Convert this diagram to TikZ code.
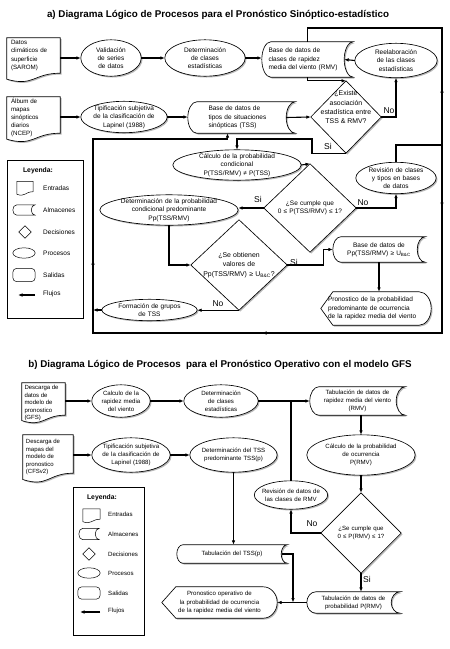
\documentclass[tikz,border=0pt]{standalone}
\usepackage{fontspec}
\setmainfont{Liberation Sans}
\usetikzlibrary{arrows.meta,calc,decorations.markings}
\pgfdeclarelayer{bg}
\pgfsetlayers{bg,main}
\newcommand\fs{\fontsize{6.5}{8.3}\selectfont}
\newcommand\fsd{\fontsize{6.2}{8.2}\selectfont}
\newcommand\fsL{\fontsize{6.9}{9.4}\selectfont}
\newcommand\fsb{\fontsize{6.1}{8.1}\selectfont}
\newcommand\fsbd{\fontsize{6.0}{7.5}\selectfont}
\newcommand\movetxt[3]{\raisebox{#1}[0pt][0pt]{\parbox{#2}{\raggedright #3}}}
% shape paths
\newcommand\pEll[1]{let \p1=($(#1.north east)-(#1.center)$) in (#1.center) ellipse [x radius=\x1, y radius=\y1]}
\newcommand\pDoc[2]{($(#1.south west)+(0,#2)$) -- (#1.north west) -- (#1.north east) -- (#1.south east) .. controls ($(#1.south east)!0.5!(#1.south west)$) and ($(#1.south east)!0.5!(#1.south west)+(0,2.3*#2)$) .. ($(#1.south west)+(0,#2)$) -- cycle}
\newcommand\pSto[2]{($(#1.north west)+(#2,0)$) -- (#1.north east) .. controls ($(#1.north east)+(-0.55*#2,0)$) and ($(#1.east)!0.55!(#1.north east)+(-#2,0)$) .. ($(#1.east)+(-#2,0)$) .. controls ($(#1.east)!0.55!(#1.south east)+(-#2,0)$) and ($(#1.south east)+(-0.55*#2,0)$) .. (#1.south east) -- ($(#1.south west)+(#2,0)$) .. controls ($(#1.south west)+(0.45*#2,0)$) and ($(#1.west)!0.55!(#1.south west)$) .. (#1.west) .. controls ($(#1.west)!0.55!(#1.north west)$) and ($(#1.north west)+(0.45*#2,0)$) .. ($(#1.north west)+(#2,0)$) -- cycle}
\newcommand\pDis[2]{($(#1.north west)+(#2,0)$) -- ($(#1.north east)+(-#2,0)$) .. controls ($(#1.north east)+(-0.45*#2,0)$) and ($(#1.east)!0.55!(#1.north east)$) .. (#1.east) .. controls ($(#1.east)!0.55!(#1.south east)$) and ($(#1.south east)+(-0.45*#2,0)$) .. ($(#1.south east)+(-#2,0)$) -- ($(#1.south west)+(#2,0)$) -- (#1.west) -- cycle}
\newcommand\pDia[1]{(#1.north) -- (#1.east) -- (#1.south) -- (#1.west) -- cycle}
\newcommand\pRnd[1]{[rounded corners=4pt] (#1.north west) rectangle (#1.south east)}
\newcommand\sdraw[1]{\begin{pgfonlayer}{bg}\fill[shd] #1;\path[outl] #1;\end{pgfonlayer}}
\newcommand\ldraw[1]{\begin{pgfonlayer}{bg}\path[outl, line width=0.5pt] #1;\end{pgfonlayer}}
\tikzset{
 >={Latex[length=4.5pt,width=3.6pt]},
 bx/.style={rectangle, draw=none, inner sep=0pt, align=center, font=\fs},
 outl/.style={draw=black, line width=0.65pt, fill=white},
 shd/.style={fill=black!28, draw=none, transform canvas={shift={(1.3pt,-1.3pt)}}},
 conn/.style={line width=1.1pt},
 flow/.style={conn, ->},
 lb/.style={font=\fontsize{8.5}{9}\selectfont, inner sep=0pt},
 ttl/.style={font=\fontsize{9.8}{11}\selectfont\bfseries, inner sep=0pt},
 lgh/.style={font=\fontsize{6.8}{8}\selectfont\bfseries, inner sep=0pt},
 lgt/.style={font=\fs, inner sep=0pt, anchor=west},
 lgtb/.style={font=\fsb, inner sep=0pt, anchor=west},
}
\begin{document}
\begin{tikzpicture}[x=1pt,y=-1pt]
\useasboundingbox (0,0) rectangle (450,649);
\begin{pgfonlayer}{bg}\fill[white] (0,0) rectangle (450,649);\end{pgfonlayer}

% ================= PART A =================
\node[ttl] (ta) at (218,15) {a) Diagrama Lógico de Procesos para el Pronóstico Sinóptico-estadístico};

\node[bx,font=\fsd,minimum width=53pt,minimum height=35pt,text width=45pt,align=left] (da1) at (33.5,55.5) {Datos\\climáticos de\\superficie\\(SAROM)};
\sdraw{\pDoc{da1}{6}}
\node[bx,minimum width=60pt,minimum height=36pt,text width=52pt] (v1) at (111,58) {Validación\\de series\\de datos};
\sdraw{\pEll{v1}}
\node[bx,minimum width=80pt,minimum height=36pt,text width=70pt] (e2) at (205,58) {Determinación\\de clases\\estadísticas};
\sdraw{\pEll{e2}}
\node[bx,minimum width=91pt,minimum height=35pt,text width=78pt,align=left] (s1) at (307.5,59.5) {Base de datos de\\clases de rapidez\\media del viento (RMV)};
\sdraw{\pSto{s1}{9}}
\node[bx,minimum width=82pt,minimum height=34pt,text width=72pt] (e3) at (396,60.5) {Reelaboración\\de las clases\\estadísticas};
\sdraw{\pEll{e3}}

\node[bx,font=\fsd,minimum width=53pt,minimum height=36pt] (da2) at (33.5,115) {\movetxt{-4pt}{45pt}{Álbum de\\mapas\\sinópticos\\diarios\\(NCEP)}};
\sdraw{\pDoc{da2}{6}}
\node[bx,minimum width=86pt,minimum height=31pt,text width=80pt] (e4) at (124,117) {Tipificación subjetiva\\de la clasificación de\\Lapinel (1988)};
\sdraw{\pEll{e4}}
\node[bx,minimum width=107pt,minimum height=31pt,text width=66pt,align=left] (s2) at (241.5,117.5) {Base de datos de\\tipos de situaciones\\sinópticas (TSS)};
\sdraw{\pSto{s2}{9}}
\node[bx,font=\fsL,minimum width=70pt,minimum height=72pt] (qa1) at (346,117) {\raisebox{8pt}[0pt][0pt]{\parbox{66pt}{\centering ¿Existe\\asociación\\estadística entre\\TSS \& RMV?}}};
\sdraw{\pDia{qa1}}

\node[bx,minimum width=128pt,minimum height=30pt,text width=110pt] (c1) at (237,165) {Cálculo de la probabilidad\\condicional\\P(TSS/RMV) ≠ P(TSS)};
\sdraw{\pEll{c1}}
\node[bx,minimum width=92pt,minimum height=88pt,text width=84pt] (qa2) at (310,208) {¿Se cumple que\\0 ≤ P(TSS/RMV) ≤ 1?};
\sdraw{\pDia{qa2}}
\node[bx,minimum width=80pt,minimum height=31pt,text width=72pt] (r1) at (396,178) {Revisión de clases\\y tipos en bases\\de datos};
\sdraw{\pEll{r1}}
\node[bx,minimum width=138pt,minimum height=30pt,text width=124pt] (e5) at (169,210) {Determinación de la probabilidad\\condicional predominante\\Pp(TSS/RMV)};
\sdraw{\pEll{e5}}
\node[bx,font=\fsL,minimum width=96pt,minimum height=90pt,text width=90pt] (qa3) at (239,265) {¿Se obtienen\\valores de\\Pp(TSS/RMV) ≥ U\textsubscript{B\&C}?};
\sdraw{\pDia{qa3}}
\node[bx,minimum width=92pt,minimum height=25pt,text width=84pt] (s3) at (379,249.5) {Base de datos de\\Pp(TSS/RMV) ≥ U\textsubscript{B\&C}};
\sdraw{\pSto{s3}{8}}
\node[bx,minimum width=110pt,minimum height=33pt,text width=96pt,align=left] (o1) at (376,308.5) {Pronostico de la probabilidad\\predominante de ocurrencia\\de la rapidez media del viento};
\sdraw{\pDis{o1}{12}}
\node[bx,minimum width=95pt,minimum height=21pt,text width=88pt] (f1) at (149.5,310) {Formación de grupos\\de TSS};
\sdraw{\pEll{f1}}

% legend a
\node[draw,line width=0.6pt,minimum width=76pt,minimum height=158pt,inner sep=0pt] (lga) at (45,239) {};
\node[lgh] (lha) at (38,171) {Leyenda:};
\node[bx,minimum width=16pt,minimum height=10pt] (sya1) at (25,186.5) {}; \ldraw{\pDoc{sya1}{2.5}}
\node[bx,minimum width=22pt,minimum height=10pt] (sya2) at (24,210) {}; \ldraw{\pSto{sya2}{4}}
\node[bx,minimum width=12pt,minimum height=12pt] (sya3) at (25,232) {}; \ldraw{\pDia{sya3}}
\node[bx,minimum width=22pt,minimum height=10pt] (sya4) at (24,253) {}; \ldraw{\pEll{sya4}}
\node[bx,minimum width=22pt,minimum height=13pt] (sya5) at (24,275) {}; \ldraw{\pRnd{sya5}}
\coordinate (fa1) at (35,295); \coordinate (fa2) at (18,295);
\draw[flow] (fa1) -- (fa2);
\node[lgt] (lta1) at (43,188) {Entradas};
\node[lgt] (lta2) at (43,210) {Almacenes};
\node[lgt] (lta3) at (43,232) {Decisiones};
\node[lgt] (lta4) at (43,253) {Procesos};
\node[lgt] (lta5) at (43,275) {Salidas};
\node[lgt] (lta6) at (43,294) {Flujos};

% connectors a
\coordinate (tr) at (442,28);
\coordinate (J) at (442,145);
\coordinate (br) at (442,333);
\coordinate (bl) at (93,333);
\coordinate (tl) at (93,139);
\coordinate (kSi) at (312,139);

\draw[flow] (v1.west -| da1.east) -- (v1.west);
\draw[flow] (v1.east) -- (e2.west);
\draw[flow] (e2.east) -- (s1.west |- e2.east);
\draw[flow] (e3.west) -- ([xshift=-9pt]s1.east);
\draw[flow] (s1.south) |- (qa1.north);
\draw[flow] (e4.west -| da2.east) -- (e4.west);
\draw[flow] (e4.east) -- (s2.west |- e4.east);
\draw[flow] ([xshift=-9pt]s2.east) -- (qa1.west);
\draw[flow] (qa1.east) -| (e3.south);
\draw[flow] (qa1.south) -| (kSi) -| (c1.north);
\draw[flow] (c1.east) -- (qa2.north);
\draw[flow] (qa2.west) -- (qa2.west -| e5.east);
\draw[flow] (qa2.east) -| (r1.south);
\draw[conn] (r1.north) |- (J);
\draw[conn, postaction={decorate}, decoration={markings, mark=at position 57pt with {\arrow{>}}}] (J) -- (tr) -| (s1.north);
\draw[flow, postaction={decorate}, decoration={markings, mark=at position 62pt with {\arrow{>}}, mark=at position 368pt with {\arrow{>}}, mark=at position 610pt with {\arrow{>}}}] (J) -- (br) -- (bl) -- (tl) -| ([xshift=-14pt]s2.south);
\draw[flow] (e5.south) |- (qa3.west);
\draw[flow] (qa3.east) -- ++(36,0) |- (s3.west);
\draw[flow] (s3.south) -- (s3.south |- o1.north);
\draw[flow] (qa3.south) -- (qa3.south -| f1.east);
\draw[flow] (f1.west) -- (f1.west -| bl);

\node[lb] (na1) at (389,111) {No};
\node[lb] (sa1) at (328,146) {Si};
\node[lb] (sa2) at (258,199) {Si};
\node[lb] (na2) at (363,203) {No};
\node[lb] (sa3) at (294,262) {Si};
\node[lb] (na3) at (218,304) {No};

% ================= PART B =================
\node[ttl] (tb) at (220,365) {b) Diagrama Lógico de Procesos \ para el Pronóstico Operativo con el modelo GFS};

\node[bx,font=\fsbd,minimum width=43pt,minimum height=32pt] (db1) at (43.5,399) {\movetxt{-5.5pt}{38pt}{Descarga de\\datos de\\modelo de\\pronostico\\(GFS)}};
\sdraw{\pDoc{db1}{5.4}}
\node[bx,font=\fsb,minimum width=58pt,minimum height=32pt,text width=52pt] (e6) at (121,401) {Calculo de la\\rapidez media\\del viento};
\sdraw{\pEll{e6}}
\node[bx,font=\fsb,minimum width=74pt,minimum height=32pt,text width=66pt] (e7) at (221,401) {Determinación\\de clases\\estadísticas};
\sdraw{\pEll{e7}}
\node[bx,font=\fsb,minimum width=95pt,minimum height=28pt,text width=84pt] (s4) at (357.5,401) {Tabulación de datos de\\rapidez media del viento\\(RMV)};
\sdraw{\pSto{s4}{9}}

\node[bx,font=\fsbd,minimum width=50pt,minimum height=38pt] (db2) at (48,454) {\movetxt{-4.5pt}{44pt}{Descarga de\\mapas del\\modelo de\\pronostico\\(CFSv2)}};
\sdraw{\pDoc{db2}{6.3}}
\node[bx,font=\fsb,minimum width=78pt,minimum height=34pt,text width=72pt] (e8) at (131,455) {Tipificación subjetiva\\de la clasificación de\\Lapinel (1988)};
\sdraw{\pEll{e8}}
\node[bx,font=\fsb,minimum width=87pt,minimum height=34pt,text width=80pt] (e9) at (233.5,455) {Determinación del TSS\\predominante TSS(p)};
\sdraw{\pEll{e9}}
\node[bx,font=\fsb,minimum width=108pt,minimum height=40pt,text width=96pt] (c2) at (361,455) {Cálculo de la probabilidad\\de ocurrencia\\P(RMV)};
\sdraw{\pEll{c2}}
\node[bx,font=\fsb,minimum width=73pt,minimum height=28pt,text width=68pt] (r2) at (291,495) {Revisión de datos de\\las clases de RMV};
\sdraw{\pEll{r2}}
\node[bx,font=\fsb,minimum width=80pt,minimum height=80pt,text width=72pt] (qb1) at (361,533) {¿Se cumple que\\0 ≤ P(RMV) ≤ 1?};
\sdraw{\pDia{qb1}}
\node[bx,font=\fsb,minimum width=110pt,minimum height=18pt,text width=96pt] (s6) at (232,554) {Tabulación del TSS(p)};
\sdraw{\pSto{s6}{6}}
\node[bx,font=\fsb,minimum width=93pt,minimum height=21pt,text width=84pt] (s5) at (353.5,602.5) {Tabulación de datos de\\probabilidad P(RMV)};
\sdraw{\pSto{s5}{9}}
\node[bx,font=\fsb,minimum width=115pt,minimum height=31pt,text width=100pt] (o2) at (219.5,602.5) {Pronostico operativo de\\la probabilidad de ocurrencia\\de la rapidez media del viento};
\sdraw{\pDis{o2}{14}}

% legend b
\node[draw,line width=0.6pt,minimum width=71pt,minimum height=148pt,inner sep=0pt] (lgb) at (108.5,561) {};
\node[lgh] (lhb) at (102,498) {Leyenda:};
\node[bx,minimum width=17pt,minimum height=10pt] (syb1) at (91.5,514) {}; \ldraw{\pDoc{syb1}{2.5}}
\node[bx,minimum width=20pt,minimum height=11pt] (syb2) at (89,534) {}; \ldraw{\pSto{syb2}{4}}
\node[bx,minimum width=12pt,minimum height=12pt] (syb3) at (89,554) {}; \ldraw{\pDia{syb3}}
\node[bx,minimum width=22pt,minimum height=10pt] (syb4) at (89,573) {}; \ldraw{\pEll{syb4}}
\node[bx,minimum width=22pt,minimum height=12pt] (syb5) at (89,593) {}; \ldraw{\pRnd{syb5}}
\coordinate (fb1) at (100,612); \coordinate (fb2) at (80,612);
\draw[flow] (fb1) -- (fb2);
\node[lgtb] (ltb1) at (108,514) {Entradas};
\node[lgtb] (ltb2) at (108,534) {Almacenes};
\node[lgtb] (ltb3) at (108,554) {Decisiones};
\node[lgtb] (ltb4) at (108,573) {Procesos};
\node[lgtb] (ltb5) at (108,593) {Salidas};
\node[lgtb] (ltb6) at (108,611) {Flujos};

% connectors b
\coordinate (jb) at (293,602.5);
\draw[flow] (e6.west -| db1.east) -- (e6.west);
\draw[flow] (e6.east) -- (e7.west);
\draw[flow] (e7.east) -- (s4.west |- e7.east);
\draw[conn] (r2.north) -- (r2.north |- e7.east);
\draw[flow] (c2.north |- s4.south) -- (c2.north);
\draw[flow] (c2.south) -- (qb1.north);
\draw[flow] (qb1.west) -| (r2.south);
\draw[flow] (qb1.south) -- (qb1.south |- s5.north);
\draw[flow] (s5.west) -- (o2.east);
\draw[flow] ([xshift=-5pt]s6.east) -| (jb);
\draw[flow] (e8.west -| db2.east) -- (e8.west);
\draw[flow] (e8.east) -- (e9.west);
\draw[flow] (e9.south) -- (e9.south |- s6.north);

\node[lb] (nb1) at (312,524) {No};
\node[lb] (sb1) at (367,579) {Si};
\end{tikzpicture}
\end{document}
